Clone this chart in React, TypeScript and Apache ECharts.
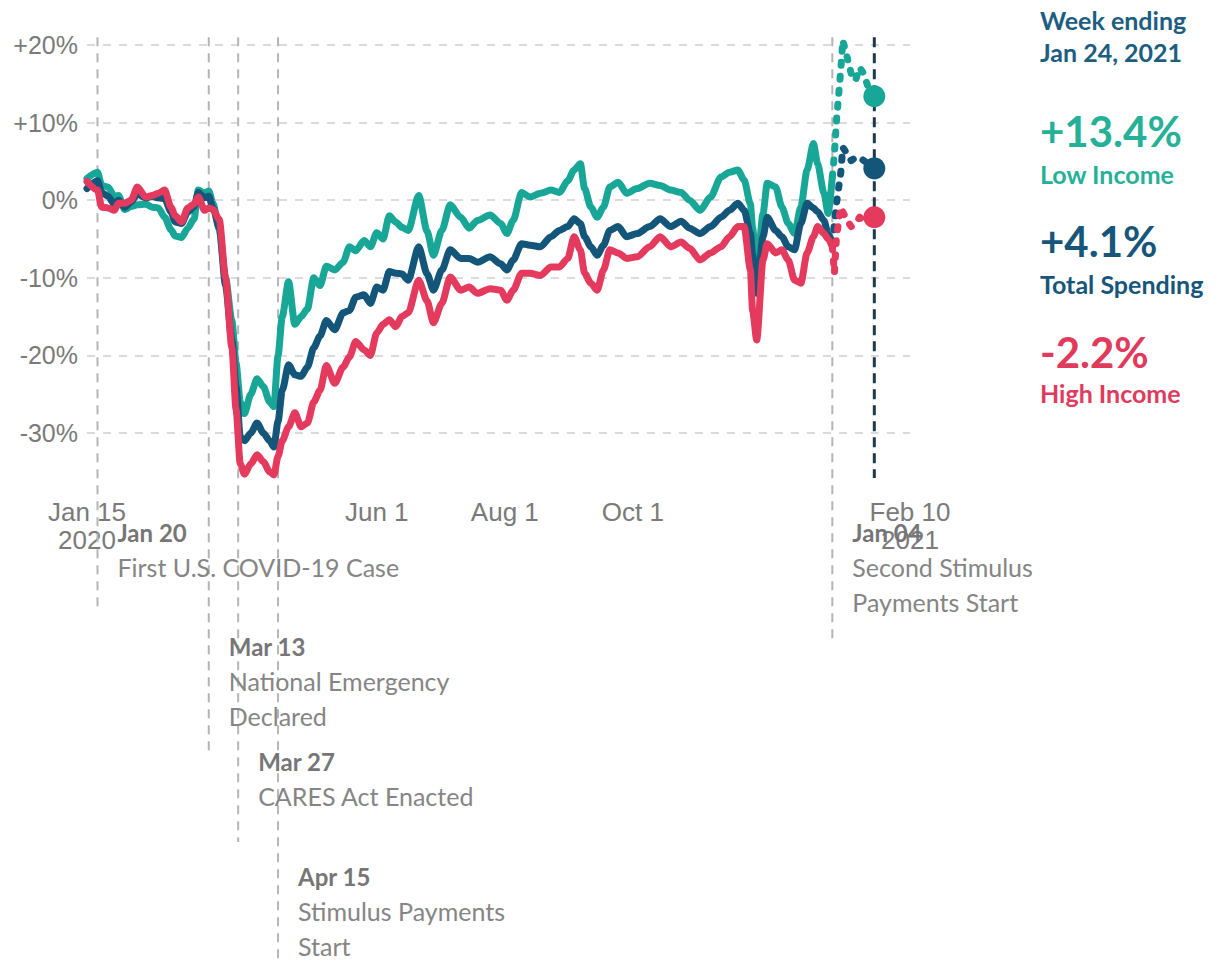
import React, { useEffect, useRef } from "react";
import * as echarts from "echarts";

const dates = [
  "2020-01-15","2020-01-20","2020-01-22","2020-01-25","2020-01-28","2020-01-30","2020-02-02","2020-02-05","2020-02-08","2020-02-12",
  "2020-02-15","2020-02-18","2020-02-21","2020-02-24","2020-02-26","2020-02-29","2020-03-03","2020-03-06","2020-03-08","2020-03-11",
  "2020-03-13","2020-03-15","2020-03-18","2020-03-21","2020-03-24","2020-03-26","2020-03-28","2020-03-30","2020-04-02","2020-04-05",
  "2020-04-08","2020-04-11","2020-04-13","2020-04-15","2020-04-17","2020-04-20","2020-04-23","2020-04-26","2020-04-29","2020-05-02",
  "2020-05-05","2020-05-08","2020-05-12","2020-05-16","2020-05-19","2020-05-22","2020-05-26","2020-05-29","2020-06-01","2020-06-04",
  "2020-06-07","2020-06-10","2020-06-13","2020-06-16","2020-06-21","2020-06-25","2020-06-28","2020-07-02","2020-07-06","2020-07-11",
  "2020-07-15","2020-07-19","2020-07-25","2020-07-30","2020-08-02","2020-08-05","2020-08-09","2020-08-13","2020-08-18","2020-08-23",
  "2020-08-27","2020-08-31","2020-09-03","2020-09-06","2020-09-08","2020-09-11","2020-09-14","2020-09-17","2020-09-20","2020-09-24",
  "2020-09-28","2020-10-03","2020-10-09","2020-10-14","2020-10-19","2020-10-24","2020-10-28","2020-11-02","2020-11-07","2020-11-12",
  "2020-11-16","2020-11-20","2020-11-23","2020-11-26","2020-11-27","2020-11-29","2020-12-02","2020-12-04","2020-12-08","2020-12-11",
  "2020-12-14","2020-12-17","2020-12-20","2020-12-23","2020-12-26","2020-12-28","2020-12-31","2021-01-02","2021-01-04","2021-01-05",
  "2021-01-06","2021-01-08","2021-01-09","2021-01-11","2021-01-13","2021-01-15","2021-01-17","2021-01-19","2021-01-21","2021-01-24",
];

const lowIncome = [
  2.8, 3.6, 1.9, 1.7, 0.5, 0.6, -1.2, -0.8, -0.6, -0.5,
  -0.9, -1.0, -2.2, -3.8, -4.6, -4.8, -3.6, -2.4, 1.3, 0.9,
  1.2, -0.4, -3.8, -10, -15.5, -21, -26, -27.5, -25, -23,
  -24, -26, -26.6, -20, -15, -10.5, -16, -15, -14, -10,
  -11, -8.5, -9, -8, -6, -6.5, -5.2, -6, -4.2, -5,
  -2, -2.8, -3.5, -3.9, 0.6, -4, -7.1, -3.9, -0.6, -2.2,
  -3.6, -2.6, -1.9, -3, -4.3, -2.6, 1.0, 0.4, 0.9, 1.3,
  1.0, 2.5, 3.9, 4.7, 1.5, -0.9, -2.2, -0.9, 1.7, 2.3,
  0.9, 1.5, 2.2, 1.9, 1.3, 1.0, 0, -1.3, 0.4, 3.0,
  3.6, 3.9, 2.6, -0.5, -3.5, -9.4, -1.7, 2.2, 1.7, -0.9,
  -3.0, -4.3, -0.9, 3.9, 7.3, 4.7, 0.9, -1.7, 3.0, 6.0,
  10.3, 16.7, 20.6, 18.5, 16.3, 15.4, 17.1, 16.3, 14.6, 13.4,
];

const totalSpending = [
  1.5, 2.5, 1.0, 0.5, -0.5, 0, -0.9, -0.2, 0.8, 0.3,
  0.5, 0.3, 0.2, -1.5, -2.8, -3.0, -1.5, -0.8, 1.0, 0.3,
  0.5, -1.0, -3.5, -11, -18, -24, -30.5, -31, -30, -28.7,
  -30, -31, -31.8, -28.5, -24.5, -21.2, -22.5, -22.7, -21.5, -19,
  -17.5, -15.5, -16.7, -14.5, -14.2, -12.5, -12.2, -13.3, -11.2, -11.6,
  -9.2, -9.4, -9.5, -10.3, -6.0, -9.5, -11.6, -9, -6.4, -7.5,
  -7.5, -8.0, -7.3, -8.2, -9, -7.7, -5.6, -5.8, -6, -4.7,
  -3.9, -3.4, -2.4, -3, -4.7, -6, -7.1, -5.8, -3.9, -3.4,
  -4.7, -4.3, -3.4, -2.4, -3.4, -2.7, -3.6, -4.3, -3.4, -2.2,
  -1.3, -0.4, -1.3, -4.3, -7, -12, -4.7, -2.2, -3.9, -4.7,
  -6, -6.4, -3, -0.4, -1.0, -1.5, -2.6, -4.3, -5.6, -3,
  -0.4, 3.5, 6.8, 6.0, 5.1, 5.5, 5.5, 5.1, 4.7, 4.1,
];

const highIncome = [
  2.4, 1.3, -0.9, -1.0, -1.3, -0.4, -0.4, 0, 1.7, 0.4,
  0.6, 0.9, 1.3, -0.9, -2.0, -2.8, -1.0, -0.5, 0.4, -1.3,
  -1.0, -1.2, -2.5, -10, -19, -27, -34, -35.3, -34, -32.8,
  -33.7, -35, -35.4, -33, -31, -29.2, -27.4, -29.2, -28.7, -26,
  -24.5, -21.3, -23.6, -21.5, -20.2, -18.2, -19.3, -20, -17.1, -16,
  -15.4, -16.3, -15, -14.5, -10.3, -13, -15.8, -13.3, -9.9, -11.6,
  -11.2, -12, -11.4, -11.6, -12.9, -11.6, -9.4, -9.4, -9.7, -8.6,
  -8.6, -7.5, -4.7, -6.4, -9.4, -10.7, -11.6, -9, -6.4, -6.8,
  -7.5, -7.3, -6, -4.7, -6, -5.4, -6.2, -7.7, -6.8, -6,
  -4.7, -3.4, -3.4, -9, -14.2, -18, -7.7, -5.6, -6.8, -6.4,
  -7.7, -10.3, -10.7, -6.8, -4.7, -3.4, -4.3, -5, -6, -9.4,
  -4.7, -0.9, -1.5, -2.6, -3.4, -3.0, -2.2, -2.6, -2.4, -2.2,
];

// after this date the lines are drawn dashed (partial data)
const dashStartDate = "2021-01-04";

const xLabelDates = ["2020-01-15", "2020-06-01", "2020-08-01", "2020-10-01", "2021-02-10"];
const xLabelTexts = ["Jan 15\n2020", "Jun 1", "Aug 1", "Oct 1", "Feb 10\n2021"];
const yTickValues = [-30, -20, -10, 0, 10, 20];

const eventDates = ["2020-01-20", "2020-03-13", "2020-03-27", "2020-04-15", "2021-01-04"];
const eventTitles = ["Jan 20", "Mar 13", "Mar 27", "Apr 15", "Jan 04"];
const eventTexts = [
  ["First U.S. COVID-19 Case"],
  ["National Emergency", "Declared"],
  ["CARES Act Enacted"],
  ["Stimulus Payments", "Start"],
  ["Second Stimulus", "Payments Start"],
];
const weekEndingDate = "2021-01-24";
const weekEndingLabel = ["Week ending", "Jan 24, 2021"];
const seriesNames = ["Low Income", "Total Spending", "High Income"];

// layout (pixels)
const eventTitleY = [532, 646, 761, 876, 532];
const eventLineBottom = [612, 757, 842, 962, 642];

const COLORS = ["#18a696", "#14557a", "#e43a5e"];
const TEXT_COLORS = ["#25b098", "#17567a", "#e03a5d"];

const ts = (s: string) => new Date(s + "T00:00:00").getTime();

export default function App() {
  const ref = useRef<HTMLDivElement>(null);

  useEffect(() => {
    if (!ref.current) return;
    const chart = echarts.init(ref.current, null, { renderer: "svg" });
    const allSeries = [lowIncome, totalSpending, highIncome];
    const dashIdx = dates.indexOf(dashStartDate);
    const labelTs = xLabelDates.map(ts);

    const series: any[] = [];
    allSeries.forEach((vals, k) => {
      series.push({
        type: "line",
        name: seriesNames[k],
        data: dates.slice(0, dashIdx + 1).map((d, i) => [ts(d), vals[i]]),
        showSymbol: false,
        clip: false,
        smooth: 0.25,
        smoothMonotone: "x",
        z: 3 + k,
        lineStyle: { color: COLORS[k], width: 7, cap: "round", join: "round" },
        itemStyle: { color: COLORS[k] },
      });
      series.push({
        type: "line",
        name: seriesNames[k] + " (partial)",
        data: dates.slice(dashIdx).map((d, i) => [ts(d), vals[i + dashIdx]]),
        showSymbol: false,
        clip: false,
        z: 3 + k,
        lineStyle: { color: COLORS[k], width: 7, type: [3, 11], cap: "round", join: "round" },
        itemStyle: { color: COLORS[k] },
      });
    });
    series.push({
      type: "scatter",
      data: allSeries.map((vals, k) => ({
        value: [ts(dates[dates.length - 1]), vals[vals.length - 1]],
        itemStyle: { color: COLORS[k], opacity: 1 },
      })),
      symbolSize: 22,
      z: 10,
      clip: false,
    });

    chart.setOption({
      animation: false,
      grid: { left: 87, right: 322, top: 45, bottom: 529, containLabel: false },
      xAxis: {
        type: "value",
        min: labelTs[0],
        max: labelTs[labelTs.length - 1],
        axisLine: { show: false },
        axisTick: { show: false },
        splitLine: { show: false },
        axisLabel: {
          customValues: labelTs,
          formatter: (v: number) => {
            const i = labelTs.indexOf(v);
            return i >= 0 ? xLabelTexts[i] : "";
          },
          showMinLabel: true,
          showMaxLabel: true,
          hideOverlap: false,
          margin: 65,
          color: "#7a7a7a",
          fontSize: 26,
          lineHeight: 28,
          fontFamily: "Liberation Sans, Arial, sans-serif",
        },
      },
      yAxis: {
        type: "value",
        min: yTickValues[0],
        max: yTickValues[yTickValues.length - 1],
        interval: 10,
        axisLine: { show: false },
        axisTick: { show: false },
        axisLabel: {
          formatter: (v: number) => (v > 0 ? `+${v}%` : `${v}%`),
          color: "#7a7a7a",
          fontSize: 25,
          margin: 9,
          fontFamily: "Liberation Sans, Arial, sans-serif",
        },
        splitLine: {
          lineStyle: { color: "#cfcfcf", width: 1.5, type: [8, 8] },
        },
      },
      series,
    });

    const px = (d: string) => chart.convertToPixel({ xAxisIndex: 0 }, ts(d)) as number;
    const py = (v: number) => chart.convertToPixel({ yAxisIndex: 0 }, v) as number;
    const top = py(21);
    const font = "Lato, 'Source Sans Pro', sans-serif";

    const graphic: any[] = [];
    eventDates.forEach((d, i) => {
      const x = px(d);
      graphic.push({
        type: "line",
        z: 1,
        silent: true,
        shape: { x1: x, y1: top, x2: x, y2: eventLineBottom[i] },
        style: { stroke: "#b5b5b5", lineWidth: 2, lineDash: [9, 7] },
      });
      graphic.push({
        type: "text",
        z: 20,
        x: x + 20,
        y: eventTitleY[i],
        style: {
          text: eventTitles[i],
          fill: "#767676",
          fontSize: 24,
          fontWeight: "bold",
          fontFamily: font,
          verticalAlign: "middle",
        },
      });
      eventTexts[i].forEach((t, j) => {
        graphic.push({
          type: "text",
          z: 20,
          x: x + 20,
          y: eventTitleY[i] + 35 * (j + 1),
          style: {
            text: t,
            fill: "#858585",
            fontSize: 25,
            fontFamily: font,
            verticalAlign: "middle",
          },
        });
      });
    });

    const wx = px(weekEndingDate);
    graphic.push({
      type: "line",
      z: 2,
      silent: true,
      shape: { x1: wx, y1: top, x2: wx, y2: 478 },
      style: { stroke: "#1c3a4c", lineWidth: 3, lineDash: [10, 6] },
    });

    const rx = 1040;
    weekEndingLabel.forEach((t, j) => {
      graphic.push({
        type: "text",
        x: rx,
        y: 20 + 32 * j,
        style: { text: t, fill: "#1d5d7f", fontSize: 25, fontWeight: "bold", fontFamily: font, verticalAlign: "middle" },
      });
    });
    const valueY = [131, 241, 352];
    const nameY = [174, 284, 393];
    allSeries.forEach((vals, k) => {
      const last = vals[vals.length - 1];
      graphic.push({
        type: "text",
        x: rx,
        y: valueY[k],
        style: {
          text: `${last > 0 ? "+" : ""}${last.toFixed(1)}%`,
          fill: TEXT_COLORS[k],
          fontSize: 42,
          fontWeight: "bold",
          fontFamily: font,
          verticalAlign: "middle",
        },
      });
      graphic.push({
        type: "text",
        x: rx,
        y: nameY[k],
        style: {
          text: seriesNames[k],
          fill: TEXT_COLORS[k],
          fontSize: 25,
          fontWeight: "bold",
          fontFamily: font,
          verticalAlign: "middle",
        },
      });
    });

    chart.setOption({ graphic });

    return () => chart.dispose();
  }, []);

  return (
    <div
      ref={ref}
      style={{ position: "absolute", left: 0, top: 0, width: 1232, height: 962, background: "#fff" }}
    />
  );
}
